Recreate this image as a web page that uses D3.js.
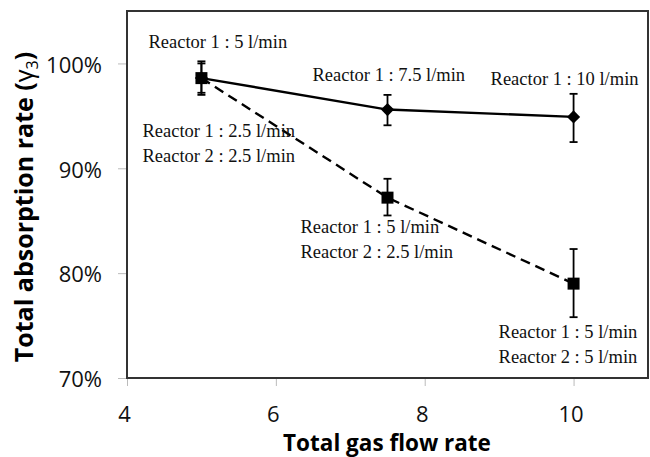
<html>
<head><script src="https://d3js.org/d3.v7.min.js"></script></head>
<style>
  body { margin: 0; background: white; }
</style>
<body>
<svg id="chart" width="650" height="457"></svg>
<script>
// flow rates (l/min) and absorption rates
const flows = [5, 7.5, 10]
const singleVals = [0.986, 0.956, 0.949]
const singleLow = [0.970, 0.941, 0.925]
const singleHigh = [1.002, 0.970, 0.971]
const dualVals = [0.986, 0.872, 0.790]
const dualLow = [0.972, 0.855, 0.758]
const dualHigh = [1.000, 0.890, 0.823]
const xTicks = [4, 6, 8, 10]
const yTicks = [0.7, 0.8, 0.9, 1.0]
const labels = [
  {x: 5, y: 1.0, lines: ["Reactor 1 : 5 l/min"]},
  {x: 5, y: 0.9, lines: ["Reactor 1 : 2.5 l/min", "Reactor 2 : 2.5 l/min"]},
  {x: 7.5, y: 0.97, lines: ["Reactor 1 : 7.5 l/min"]},
  {x: 10, y: 0.97, lines: ["Reactor 1 : 10 l/min"]},
  {x: 7.5, y: 0.85, lines: ["Reactor 1 : 5 l/min", "Reactor 2 : 2.5 l/min"]},
  {x: 10, y: 0.75, lines: ["Reactor 1 : 5 l/min", "Reactor 2 : 5 l/min"]}
]

const svg = d3.select("#chart")
const margin = {top: 11, right: 2, bottom: 79, left: 127}
const width = +svg.attr("width")
const height = +svg.attr("height")

const x = d3.scaleLinear().domain([4, 11]).range([margin.left, width - margin.right])
const y = d3.scaleLinear().domain([0.7, 1.05]).range([height - margin.bottom, margin.top])

// axes
const xAxis = svg.append("g")
  .attr("transform", `translate(0,${height - margin.bottom})`)
  .call(d3.axisBottom(x).tickValues(xTicks).tickSize(8).tickFormat(d3.format("d")))
const yAxis = svg.append("g")
  .attr("transform", `translate(${margin.left},0)`)
  .call(d3.axisLeft(y).tickValues(yTicks).tickSize(9).tickFormat(d3.format(".0%")))
xAxis.select(".domain").remove()
yAxis.select(".domain").remove()
svg.selectAll(".tick line").attr("stroke", "#bbb")
svg.selectAll(".tick text")
  .attr("font-family", "Open Sans, Noto Sans, sans-serif")
  .attr("font-size", 22)
  .attr("fill", "#111")
xAxis.selectAll(".tick text").attr("dy", "1.5em").attr("dx", -3)
yAxis.selectAll(".tick text").attr("dx", -13).attr("dy", "0.4em")

// frame
svg.append("rect")
  .attr("x", margin.left).attr("y", margin.top)
  .attr("width", width - margin.left - margin.right)
  .attr("height", height - margin.top - margin.bottom)
  .attr("fill", "none").attr("stroke", "#333").attr("stroke-width", 2)

// axis titles
svg.append("text")
  .attr("x", 387).attr("y", 451)
  .attr("text-anchor", "middle")
  .attr("font-family", "Open Sans, Noto Sans, sans-serif")
  .attr("font-weight", "bold").attr("font-size", 22.5)
  .text("Total gas flow rate")
const yt = svg.append("text")
  .attr("transform", "translate(33,207) rotate(-90)")
  .attr("text-anchor", "middle")
  .attr("font-family", "Open Sans, Noto Sans, sans-serif")
  .attr("font-weight", "bold").attr("font-size", 25)
yt.append("tspan").text("Total absorption rate (")
yt.append("tspan").attr("font-weight", "normal").text("γ")
yt.append("tspan").attr("font-weight", "normal").attr("font-size", 16).attr("dy", 5).text("3")
yt.append("tspan").attr("dy", -5).text(")")

const line = d3.line().x(d => x(d[0])).y(d => y(d[1]))

function drawSeries(vals, low, high, dash, shape) {
  const pts = flows.map((f, i) => [f, vals[i]])
  svg.append("path").datum(pts)
    .attr("d", line).attr("fill", "none").attr("stroke", "black")
    .attr("stroke-width", 2.4).attr("stroke-dasharray", dash)
  const g = svg.append("g")
  flows.forEach((f, i) => {
    g.append("line").attr("x1", x(f)).attr("x2", x(f))
      .attr("y1", y(low[i])).attr("y2", y(high[i]))
      .attr("stroke", "black").attr("stroke-width", 1.8)
    ;[low[i], high[i]].forEach(v => {
      g.append("line").attr("x1", x(f) - 4).attr("x2", x(f) + 4)
        .attr("y1", y(v)).attr("y2", y(v))
        .attr("stroke", "black").attr("stroke-width", 1.8)
    })
  })
  g.selectAll("path.m").data(pts).join("path")
    .attr("class", "m")
    .attr("transform", d => `translate(${x(d[0])},${y(d[1])})`)
    .attr("d", d3.symbol().type(shape).size(shape === d3.symbolSquare ? 144 : 110))
    .attr("fill", "black")
}
drawSeries(dualVals, dualLow, dualHigh, "10,6", d3.symbolSquare)
drawSeries(singleVals, singleLow, singleHigh, null, d3.symbolDiamond2)

// annotation offsets in px from the anchor point
const annot = [
  {dx: -53, dy: -15},
  {dx: -59, dy: -31},
  {dx: -75, dy: -14},
  {dx: -83, dy: -10},
  {dx: -87, dy: 12},
  {dx: -75, dy: 12}
]
labels.forEach((l, i) => {
  const t = svg.append("text")
    .attr("font-family", "Liberation Serif, Times New Roman, serif")
    .attr("font-size", 18.5).attr("fill", "#111")
    .attr("x", x(l.x) + annot[i].dx).attr("y", y(l.y) + annot[i].dy)
  l.lines.forEach((s, j) => {
    t.append("tspan").attr("x", x(l.x) + annot[i].dx).attr("dy", j ? 25 : 0).text(s)
  })
})
</script>
</body>
</html>
